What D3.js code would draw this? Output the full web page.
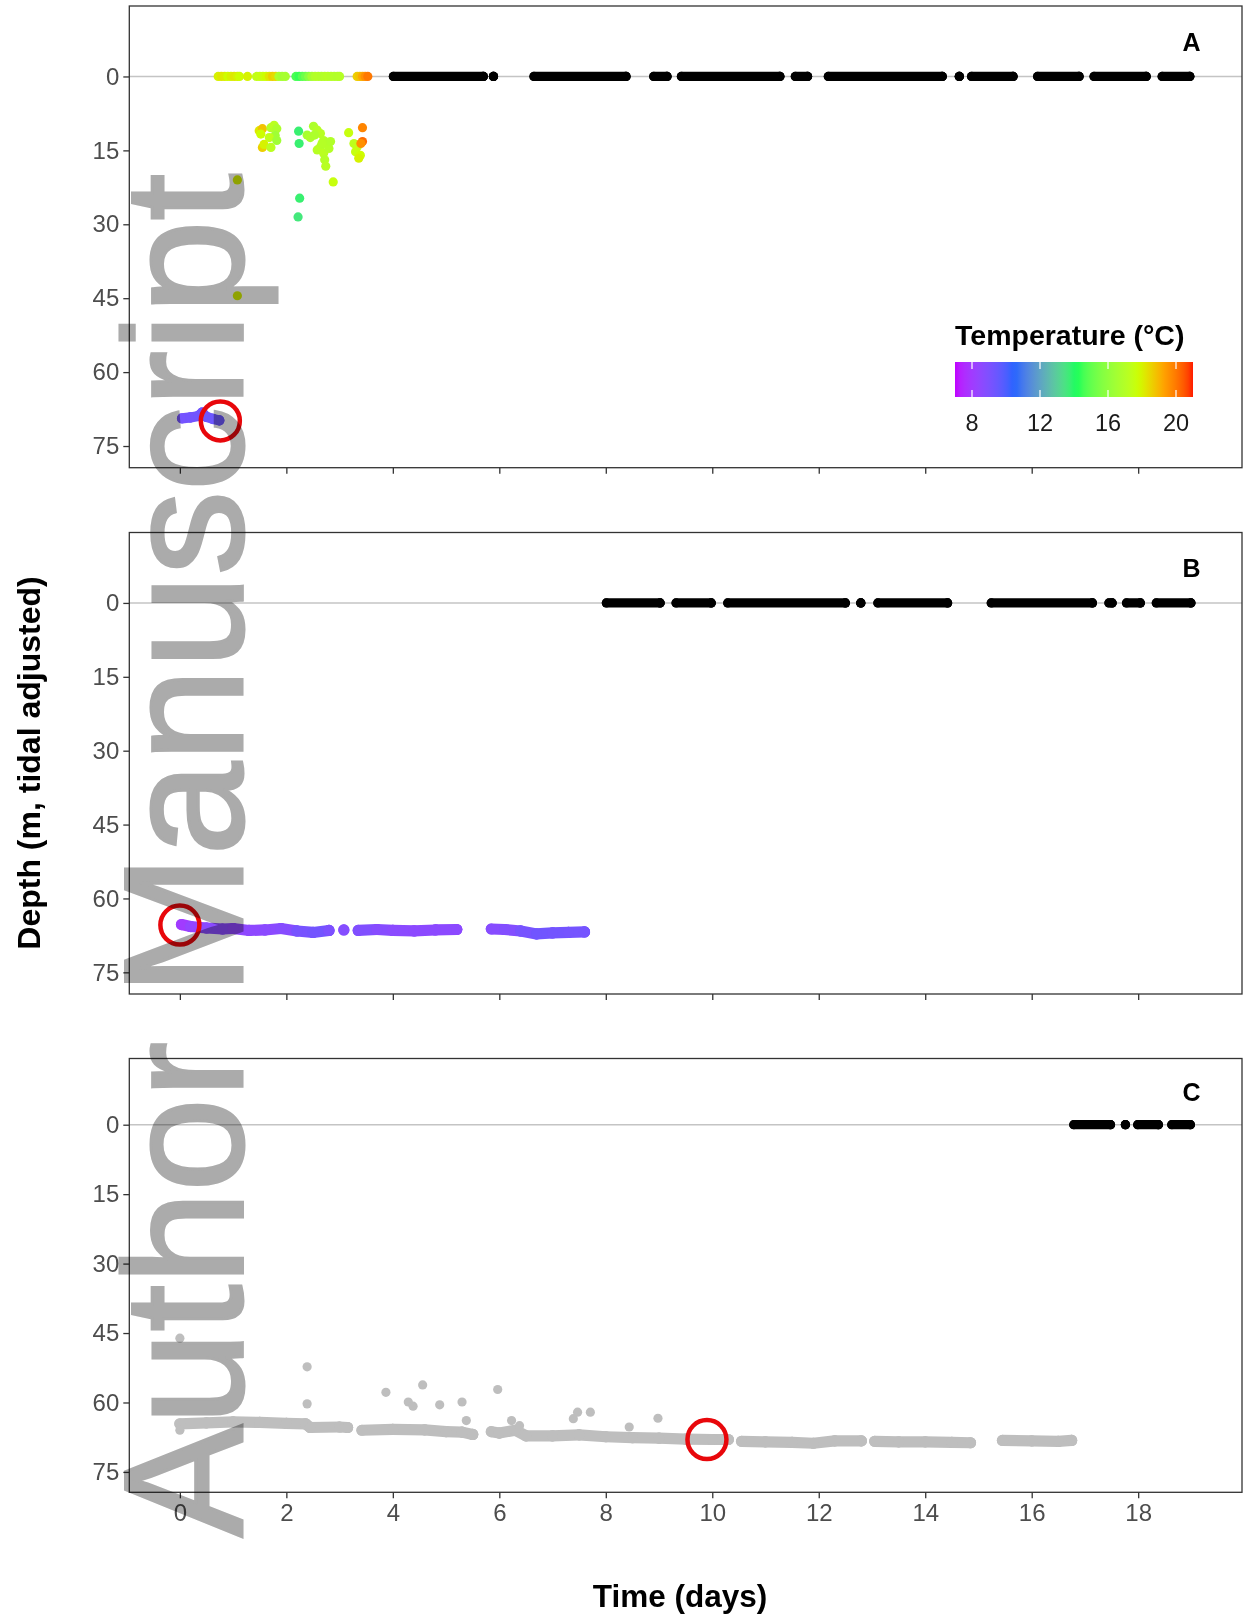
<!DOCTYPE html>
<html>
<head>
<meta charset="utf-8">
<script src="https://cdn.jsdelivr.net/npm/d3@7"></script>
<style>
  body { margin: 0; background: #fff; }
  svg { display: block; font-family: "Liberation Sans", Arial, sans-serif; }
</style>
</head>
<body>
<svg id="chart" width="1244" height="1616"></svg>
<script>
// ---- data (days, depth in m, temperature in °C) ----
const xTicks = [0, 2, 4, 6, 8, 10, 12, 14, 16, 18];
const yTicks = [0, 15, 30, 45, 60, 75];
const legendTicks = [8, 12, 16, 20];
const tempStops = [0, 0.25, 0.51, 0.77, 0.88, 1];
const tempColours = ['#c000ff', '#1e64ff', '#00ff5a', '#ccff00', '#ffa000', '#ff1a00'];

// panel A: surface points with temperature
const aSurfDays  = [0.72, 0.78, 0.84, 0.90, 0.96, 1.02, 1.08, 1.12, 1.27,
                    1.44, 1.50, 1.56, 1.62, 1.68, 1.74, 1.80, 1.86, 1.92, 1.98,
                    2.18, 2.24, 2.30, 2.36, 2.42, 2.48, 2.54, 2.60, 2.66, 2.72, 2.78, 2.84, 2.90, 2.96, 3.00,
                    3.33, 3.38, 3.43, 3.48, 3.53];
const aSurfTemps = [18.0, 18.2, 18.1, 17.8, 18.0, 18.2, 18.0, 17.8, 18.0,
                    17.4, 17.5, 17.6, 17.8, 18.2, 18.6, 18.4, 16.8, 16.5, 16.6,
                    14.6, 14.4, 14.8, 15.2, 15.8, 16.5, 16.9, 17.0, 16.9, 17.0, 17.1, 17.0, 17.0, 16.9, 17.0,
                    18.6, 18.8, 19.2, 19.6, 20.0];
// panel A: mid-depth points
const aMidDays   = [1.49, 1.55, 1.52, 1.71, 1.77, 1.82, 1.79, 1.68, 1.55, 1.58, 1.71, 1.82,
                    2.23, 2.24, 2.39, 2.45, 2.51, 2.58, 2.64, 2.70, 2.76, 2.64, 2.58, 2.70, 2.72, 2.74, 2.80, 2.83, 2.67, 2.53,
                    2.88, 3.17, 3.27, 3.33, 3.30, 3.39, 3.36, 3.43, 3.43, 3.40,
                    1.08, 1.08, 2.25, 2.22];
const aMidDepths = [11.0, 10.6, 11.7, 10.4, 9.9, 10.6, 12.0, 12.4, 14.4, 13.8, 14.4, 13.0,
                    11.1, 13.6, 11.9, 12.4, 10.1, 10.9, 11.6, 13.0, 13.6, 14.3, 14.9, 15.6, 16.9, 18.2, 14.6, 13.2, 13.6, 11.9,
                    21.4, 11.4, 13.6, 14.3, 15.3, 16.0, 16.6, 10.4, 13.2, 13.6,
                    21.0, 44.5, 24.7, 28.5];
const aMidTemps  = [18.2, 18.8, 17.8, 17.0, 17.2, 16.8, 16.4, 17.4, 18.6, 18.0, 17.2, 16.4,
                    13.8, 13.8, 16.6, 16.8, 16.8, 17.0, 17.1, 17.0, 16.9, 17.0, 17.1, 17.2, 17.0, 17.1, 17.0, 16.9, 17.0, 16.8,
                    17.6, 17.6, 17.3, 17.4, 17.6, 17.8, 18.0, 19.8, 20.2, 19.6,
                    18.0, 18.0, 13.8, 13.6];
// panel A: deep track before departure [day, depth, temp]
const aDeepTrack = [[0.04, 69.4, 9.2], [0.20, 69.2, 9.2], [0.35, 68.9, 9.3], [0.42, 68.2, 9.3],
                    [0.50, 69.1, 9.3], [0.62, 69.5, 9.4], [0.74, 69.8, 9.4]];
const aBlackRuns = [[4.01, 5.70], [5.89, 5.89], [6.65, 8.38], [8.90, 9.15], [9.42, 11.27], [11.56, 11.79],
                    [12.18, 14.32], [14.64, 14.64], [14.87, 15.65], [16.11, 16.89], [17.17, 18.15], [18.45, 18.97]];

// panel B: deep track with temperature, split at gaps
const bTracks = [
  [[0.03, 65.3, 7.8], [0.20, 65.7, 8.2], [0.50, 66.0, 8.6], [0.80, 66.2, 8.8], [1.00, 66.1, 8.5], [1.30, 66.5, 8.5],
   [1.60, 66.4, 8.6], [1.90, 66.1, 8.7], [2.20, 66.6, 8.8], [2.50, 66.9, 9.5], [2.80, 66.5, 9.0]],
  [[3.08, 66.4, 8.8]],
  [[3.35, 66.5, 9.0], [3.70, 66.3, 8.8], [4.00, 66.5, 8.7], [4.40, 66.6, 8.6], [4.80, 66.4, 8.6], [5.20, 66.3, 8.6]],
  [[5.85, 66.2, 8.8], [6.10, 66.3, 8.7], [6.40, 66.6, 9.0], [6.70, 67.2, 9.3], [7.00, 67.0, 9.3], [7.30, 66.9, 9.2], [7.60, 66.8, 9.2]]
];
const bBlackRuns = [[8.01, 9.02], [9.32, 9.98], [10.29, 12.50], [12.79, 12.79], [13.11, 14.42],
                    [15.24, 17.14], [17.45, 17.51], [17.78, 18.04], [18.34, 18.99]];

// panel C: deep track without temperature
const cTracks = [
  [[0.00, 64.6], [0.50, 64.4], [1.00, 64.2], [1.50, 64.3], [2.00, 64.5], [2.36, 64.6], [2.45, 65.4], [3.00, 65.3], [3.15, 65.4]],
  [[3.42, 66.0], [4.00, 65.8], [4.60, 65.9], [5.00, 66.3], [5.30, 66.4], [5.50, 66.9]],
  [[5.85, 66.3], [6.00, 66.6], [6.30, 66.0], [6.50, 67.2], [7.00, 67.2], [7.50, 67.0], [8.00, 67.4], [8.50, 67.6],
   [9.00, 67.7], [9.50, 67.9], [10.00, 68.0], [10.30, 68.0]],
  [[10.55, 68.4], [11.00, 68.5], [11.50, 68.6], [11.90, 68.8], [12.30, 68.3], [12.80, 68.3]],
  [[13.05, 68.4], [13.50, 68.5], [14.00, 68.5], [14.50, 68.6], [14.85, 68.7]],
  [[15.45, 68.2], [16.00, 68.3], [16.50, 68.4], [16.75, 68.2]]
];
const cOutDays   = [0.00, 0.00, 2.39, 2.39, 3.87, 4.56, 4.29, 4.38, 4.88, 5.30, 5.38, 5.97, 6.23, 6.38, 7.39, 7.47, 7.71, 8.44, 8.98];
const cOutDepths = [46.1, 66.0, 52.3, 60.3, 57.8, 56.2, 59.9, 60.8, 60.5, 59.9, 63.9, 57.2, 63.9, 65.0, 63.5, 62.1, 62.1, 65.3, 63.4];
const cBlackRuns = [[16.79, 17.48], [17.76, 17.76], [17.99, 18.38], [18.63, 18.98]];

// red circles: last detection at depth
const tagDays   = [0.76, 0.00, 9.90];
const tagDepths = [69.9, 65.4, 68.0];
const panelLabels = ['A', 'B', 'C'];

// ---- layout ----
const svg = d3.select('#chart');
const left = 129.3, right = 1242;
const panels = [
  { top: 6, bottom: 467.7 },
  { top: 532.5, bottom: 994 },
  { top: 1058.5, bottom: 1492.3 }
];
const x = d3.scaleLinear().domain([-0.95, 19.95]).range([left, right]);
const temp = d3.scaleLinear()
  .domain(tempStops.map(t => 7 + t * 14))
  .range(tempColours)
  .interpolate(d3.interpolateLab);
const grey = '#bebebe';
const r = 4.6;

panels.forEach((p, i) => {
  const y = d3.scaleLinear().domain([-14.3, 79.4]).range([p.top, p.bottom]);
  const g = svg.append('g');

  // reference line at the surface
  g.append('line')
    .attr('x1', left).attr('x2', right)
    .attr('y1', y(0)).attr('y2', y(0))
    .attr('stroke', '#c4c4c4').attr('stroke-width', 1.6);

  // axes
  const yAxis = g.append('g').attr('transform', `translate(${left},0)`)
    .call(d3.axisLeft(y).tickValues(yTicks).tickSize(6).tickPadding(4));
  const xAxis = g.append('g').attr('transform', `translate(0,${p.bottom})`)
    .call(d3.axisBottom(x).tickValues(xTicks).tickSize(6).tickPadding(6));
  [yAxis, xAxis].forEach(a => {
    a.select('.domain').remove();
    a.selectAll('.tick line').attr('stroke', '#333').attr('stroke-width', 1.3);
    a.selectAll('.tick text').attr('fill', '#4d4d4d').style('font-size', '24px');
  });
  if (i < 2) xAxis.selectAll('.tick text').remove();

  const track = (pts, colour, width) => {
    pts.forEach((d, k) => {
      const n = pts[k + 1] || d;
      g.append('line')
        .attr('x1', x(d[0])).attr('y1', y(d[1]))
        .attr('x2', x(n[0])).attr('y2', y(n[1]))
        .attr('stroke', colour(d, n))
        .attr('stroke-width', width)
        .attr('stroke-linecap', 'round');
      g.append('circle').attr('cx', x(d[0])).attr('cy', y(d[1])).attr('r', width / 2)
        .attr('fill', colour(d, n));
    });
  };
  const blackRuns = [aBlackRuns, bBlackRuns, cBlackRuns][i];
  blackRuns.forEach(run => track([[run[0], 0], [run[1], 0]], () => '#000', 2 * r));

  if (i === 0) {
    g.selectAll('.surf').data(aSurfDays).join('circle')
      .attr('cx', d => x(d)).attr('cy', y(0)).attr('r', r)
      .attr('fill', (d, k) => temp(aSurfTemps[k]));
    g.selectAll('.mid').data(aMidDays).join('circle')
      .attr('cx', d => x(d)).attr('cy', (d, k) => y(aMidDepths[k])).attr('r', r)
      .attr('fill', (d, k) => temp(aMidTemps[k]));
    track(aDeepTrack, (d, n) => temp((d[2] + n[2]) / 2), 2 * r + 1);
  }
  if (i === 1) {
    bTracks.forEach(t => track(t, (d, n) => temp((d[2] + n[2]) / 2), 2 * r + 2));
  }
  if (i === 2) {
    cTracks.forEach(t => track(t, () => grey, 2 * r + 2));
    g.selectAll('.out').data(cOutDays).join('circle')
      .attr('cx', d => x(d)).attr('cy', (d, k) => y(cOutDepths[k])).attr('r', r)
      .attr('fill', grey);
  }

  // detection circle
  g.append('circle')
    .attr('cx', x(tagDays[i])).attr('cy', y(tagDepths[i])).attr('r', 19.5)
    .attr('fill', 'none').attr('stroke', '#e8070b').attr('stroke-width', 4.5);

  // panel letter
  g.append('text')
    .attr('x', x(19)).attr('y', y(-7))
    .attr('text-anchor', 'middle').attr('dominant-baseline', 'central')
    .style('font-size', '25px').style('font-weight', 'bold')
    .text(panelLabels[i]);

  // border
  g.append('rect')
    .attr('x', left).attr('y', p.top)
    .attr('width', right - left).attr('height', p.bottom - p.top)
    .attr('fill', 'none').attr('stroke', '#333').attr('stroke-width', 1.3);
});

// ---- temperature legend ----
const lx = d3.scaleLinear().domain([7, 21]).range([955, 1193]);
const grad = svg.append('defs').append('linearGradient').attr('id', 'tgrad');
d3.range(0, 1.001, 0.02).forEach(t => {
  grad.append('stop').attr('offset', t).attr('stop-color', temp(7 + t * 14));
});
svg.append('text').attr('x', 955).attr('y', 345)
  .style('font-size', '28.5px').style('font-weight', 'bold').text('Temperature (°C)');
svg.append('rect').attr('x', 955).attr('y', 362).attr('width', 238).attr('height', 35)
  .attr('fill', 'url(#tgrad)');
legendTicks.forEach(t => {
  [[362, 369], [390, 397]].forEach(([a, b]) => {
    svg.append('line').attr('x1', lx(t)).attr('x2', lx(t)).attr('y1', a).attr('y2', b)
      .attr('stroke', '#fff').attr('stroke-width', 1.2);
  });
  svg.append('text').attr('x', lx(t)).attr('y', 431).attr('text-anchor', 'middle')
    .attr('fill', '#1a1a1a').style('font-size', '23.5px').text(t);
});

// ---- axis titles ----
svg.append('text').attr('x', 680).attr('y', 1607).attr('text-anchor', 'middle')
  .style('font-size', '31.5px').style('font-weight', 'bold').text('Time (days)');
svg.append('text').attr('transform', 'translate(29,763) rotate(-90)')
  .attr('text-anchor', 'middle').attr('dominant-baseline', 'central')
  .style('font-size', '32px').style('font-weight', 'bold').text('Depth (m, tidal adjusted)');

// ---- watermark ----
svg.append('text').attr('transform', 'translate(242,1537) rotate(-90)')
  .attr('fill', '#ababab').attr('stroke', '#ababab').attr('stroke-width', 3)
  .style('mix-blend-mode', 'multiply')
  .style('font-size', '168px').text('Author Manuscript');
</script>
</body>
</html>
